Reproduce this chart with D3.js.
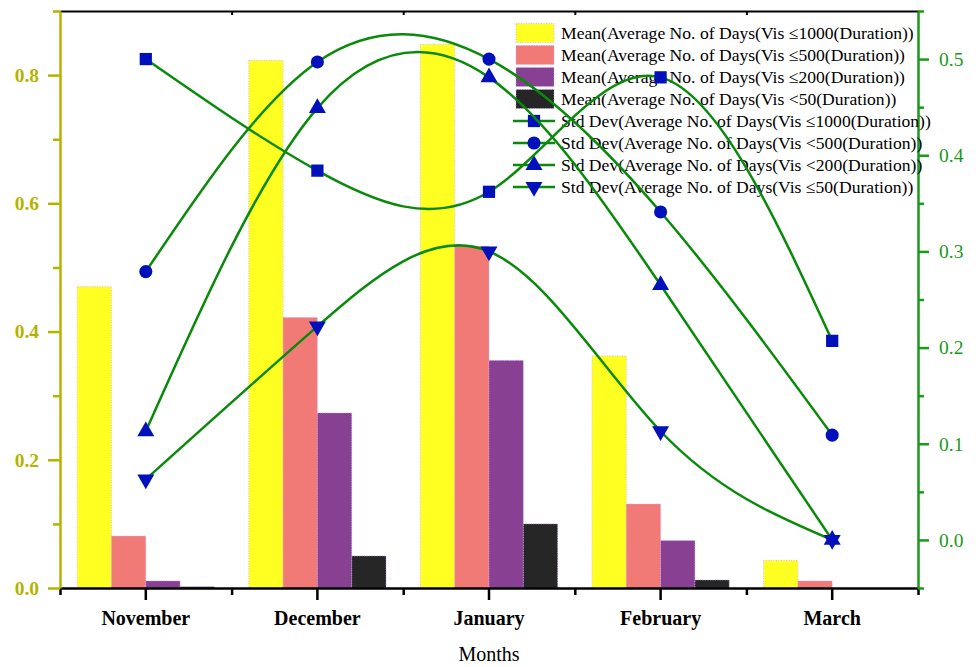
<script src="https://cdn.jsdelivr.net/npm/d3@7"></script>
<style>
	body {margin:0; background:#fff;}
	svg text {font-family:"Liberation Serif","Times New Roman",serif;}
</style>
<svg id="svgelement" width="979" height="667"></svg>
<script>
	var months = ["November","December","January","February","March"];

	var mean1000 = [0.47,0.823,0.848,0.362,0.043];
	var mean500 = [0.081,0.422,0.533,0.131,0.011];
	var mean200 = [0.011,0.273,0.355,0.074,0];
	var mean50 = [0.002,0.05,0.1,0.0125,0];

	var sd1000 = [0.5,0.384,0.362,0.481,0.207];
	var sd500 = [0.279,0.497,0.5,0.341,0.109];
	var sd200 = [0.113,0.449,0.481,0.265,0];
	var sd50 = [0.063,0.222,0.30,0.113,0];

	var leftTicks = [0,0.2,0.4,0.6,0.8];
	var leftMinor = [0.1,0.3,0.5,0.7,0.9];
	var rightTicks = [0,0.1,0.2,0.3,0.4,0.5];
	var rightMinor = [-0.05,0.05,0.15,0.25,0.35,0.45,0.55];

	var barNames = [
		"Mean(Average No. of Days(Vis \u22641000(Duration))",
		"Mean(Average No. of Days(Vis \u2264500(Duration))",
		"Mean(Average No. of Days(Vis \u2264200(Duration))",
		"Mean(Average No. of Days(Vis <50(Duration))"
	];
	var lineNames = [
		"Std Dev(Average No. of Days(Vis \u22641000(Duration))",
		"Std Dev(Average No. of Days(Vis <500(Duration))",
		"Std Dev(Average No. of Days(Vis <200(Duration))",
		"Std Dev(Average No. of Days(Vis \u226450(Duration))"
	];
	var barColors = ["#ffff22","#f27a76","#874092","#262626"];

	var pLeft = 60, pRight = 918, pTop = 11, pBottom = 588;
	var olive = "#b3b300", green = "#1a9a1a";
	var svg = d3.select("#svgelement");

	var x = d3.scaleBand().domain(months).range([pLeft,pRight]);
	var xBound = d3.scaleLinear().domain([0,months.length]).range([pLeft,pRight]);
	var bw = x.bandwidth();
	var xs = d3.scaleBand().domain([0,1,2,3]).range([bw*0.1,bw*0.9]);
	var yL = d3.scaleLinear().domain([0,0.9]).range([pBottom,pTop]);
	var yR = d3.scaleLinear().domain([-0.05,0.55]).range([pBottom,pTop]);

	// bars
	var barSeries = [mean1000,mean500,mean200,mean50];
	barSeries.forEach(function(vals,s) {
		svg.append("g").selectAll("rect")
			.data(vals)
			.enter()
			.append("rect")
			.attr("x",function(d,i){return x(months[i])+xs(s);})
			.attr("y",function(d){return yL(d);})
			.attr("width",xs.bandwidth())
			.attr("height",function(d){return pBottom-yL(d);})
			.attr("fill",barColors[s])
			.attr("stroke",function(d){return d>0?"#d4a8ff":"none";})
			.attr("stroke-width",0.8)
			.attr("stroke-dasharray","1,1.5");
	});

	// axes
	var gT = svg.append("g").attr("transform","translate(0,"+pTop+")")
		.call(d3.axisTop(xBound).tickValues([1,2,3,4]).tickSize(-4).tickSizeOuter(0).tickFormat(""));
	gT.selectAll(".domain,.tick line").attr("stroke","#000").attr("stroke-width",2);

	var gB = svg.append("g").attr("transform","translate(0,"+pBottom+")")
		.call(d3.axisBottom(x).tickSize(12).tickSizeOuter(0).tickPadding(11));
	var gBm = svg.append("g").attr("transform","translate(0,"+pBottom+")")
		.call(d3.axisBottom(xBound).tickValues([0,1,2,3,4,5]).tickSize(7).tickSizeOuter(0).tickFormat(""));
	gBm.select(".domain").remove();
	gB.selectAll("text").attr("font-size",20).attr("font-weight","bold").attr("fill","#000");
	gB.selectAll(".domain,.tick line").attr("stroke","#000").attr("stroke-width",2.5);
	gBm.selectAll(".tick line").attr("stroke","#000").attr("stroke-width",2.5);

	var gL = svg.append("g").attr("transform","translate("+pLeft+",0)")
		.call(d3.axisLeft(yL).tickValues(leftTicks).tickSize(12).tickSizeOuter(0).tickPadding(9).tickFormat(d3.format(".1f")));
	var gLm = svg.append("g").attr("transform","translate("+pLeft+",0)")
		.call(d3.axisLeft(yL).tickValues(leftMinor).tickSize(7).tickSizeOuter(0).tickFormat(""));
	gLm.select(".domain").remove();
	gL.selectAll("text").attr("font-size",19.5).attr("font-weight","bold").attr("fill",olive);
	gL.selectAll(".domain,.tick line").attr("stroke",olive).attr("stroke-width",2.5);
	gLm.selectAll(".tick line").attr("stroke",olive).attr("stroke-width",2.5);

	var gR = svg.append("g").attr("transform","translate("+pRight+",0)")
		.call(d3.axisRight(yR).tickValues(rightTicks).tickSize(11).tickSizeOuter(0).tickPadding(10).tickFormat(d3.format(".1f")));
	var gRm = svg.append("g").attr("transform","translate("+pRight+",0)")
		.call(d3.axisRight(yR).tickValues(rightMinor).tickSize(6).tickSizeOuter(0).tickFormat(""));
	gRm.select(".domain").remove();
	gR.selectAll("text").attr("font-size",19.5).attr("fill",green);
	gR.selectAll(".domain,.tick line").attr("stroke",green).attr("stroke-width",2.5);
	gRm.selectAll(".tick line").attr("stroke",green).attr("stroke-width",2.5);

	svg.append("text")
		.attr("x",(pLeft+pRight)/2)
		.attr("y",661)
		.attr("text-anchor","middle")
		.attr("font-size",20)
		.text("Months");

	// legend
	var leg = svg.append("g");
	barNames.forEach(function(n,i) {
		var cy = 33+22*i;
		leg.append("rect").attr("x",516).attr("y",cy-9.5).attr("width",38).attr("height",19)
			.attr("fill",barColors[i]).attr("stroke","#d4a8ff").attr("stroke-width",0.8).attr("stroke-dasharray","1,1.5");
		leg.append("text").attr("x",561).attr("y",cy).attr("dy","0.35em").attr("font-size",17.6).text(n);
	});

	// std dev lines
	var lineSeries = [sd1000,sd500,sd200,sd50];
	var symbols = [d3.symbolSquare,d3.symbolCircle,d3.symbolTriangle,d3.symbolTriangle];
	var sizes = [150,135,125,125];
	var rot = [0,0,0,180];
	var line = d3.line()
		.x(function(d,i){return x(months[i])+bw/2;})
		.y(function(d){return yR(d);})
		.curve(d3.curveNatural);

	lineNames.forEach(function(n,i) {
		var cy = 33+22*(i+4);
		leg.append("line").attr("x1",513).attr("x2",555).attr("y1",cy).attr("y2",cy)
			.attr("stroke","#0a8a0a").attr("stroke-width",2.5);
		leg.append("path").attr("d",d3.symbol().type(symbols[i]).size(sizes[i]))
			.attr("transform","translate(534,"+cy+") rotate("+rot[i]+")")
			.attr("fill","#0010bb");
		leg.append("text").attr("x",561).attr("y",cy).attr("dy","0.35em").attr("font-size",17.6).text(n);
	});

	lineSeries.forEach(function(vals) {
		svg.append("path")
			.attr("d",line(vals))
			.attr("fill","none")
			.attr("stroke","#0a8a0a")
			.attr("stroke-width",2.5);
	});
	lineSeries.forEach(function(vals,s) {
		svg.append("g").selectAll("path")
			.data(vals)
			.enter()
			.append("path")
			.attr("d",d3.symbol().type(symbols[s]).size(sizes[s]))
			.attr("transform",function(d,i){return "translate("+(x(months[i])+bw/2)+","+yR(d)+") rotate("+rot[s]+")";})
			.attr("fill","#0010bb");
	});
</script>
